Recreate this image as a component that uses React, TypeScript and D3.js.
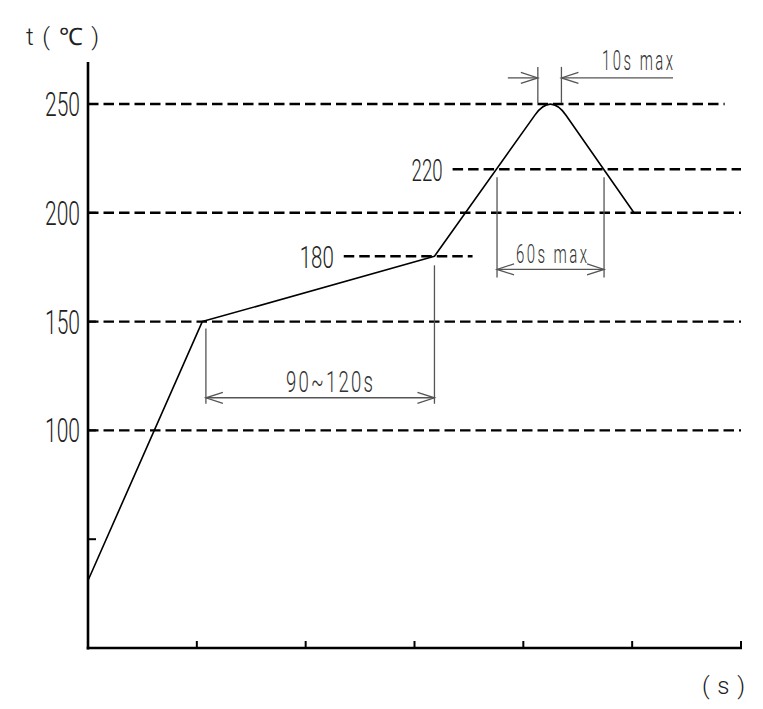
import React from 'react';
import * as d3 from 'd3';

// Reflow profile data (time in s, temperature in °C)
const profileTime = [0, 63, 191, 255, 301];
const profileTemp = [31, 150, 180, 255, 200];
const xTicks = [0, 60, 120, 180, 240, 300, 360];
const yTicks = [50, 100, 150, 200, 250];
const yTickLabels = ['', '100', '150', '200', '250'];
const guideTemps = [250, 220, 200, 180, 150, 100];
const guideFrom = [0, 201, 0, 141, 0, 0];
const guideTo = [351, 360, 360, 212, 360, 360];
const guideLabels = ['', '220', '', '180', '', ''];
const preheatSpan = [65, 191];
const preheatArrowTemp = 115;
const reflowSpan = [225.5, 284.5];
const reflowArrowTemp = 174;
const peakSpan = [248, 261];
const peakArrowTemp = 262;

const FONT = "Roboto, 'Liberation Sans', sans-serif";

function NarrowText(props: { x: number; y: number; size: number; width: number; sx: number; fill: string; children: string }) {
  const { x, y, size, width, sx, fill, children } = props;
  return (
    <text transform={`translate(${x},${y}) scale(${sx},1)`} fontFamily={FONT} fontWeight={300}
      fontSize={size} fill={fill} textLength={width / sx} lengthAdjust="spacing">{children}</text>
  );
}

export default function App() {
  const x = d3.scaleLinear().domain([0, 360]).range([88, 741]);
  const y = d3.scaleLinear().domain([0, 250]).range([648, 104]);

  // profile path with rounded apex
  const pts = profileTime.map((t, i) => [x(t), y(profileTemp[i])]);
  const r = 27;
  const toward = (a: number[], b: number[], d: number) => {
    const dx = b[0] - a[0], dy = b[1] - a[1];
    const L = Math.hypot(dx, dy);
    return [a[0] + (dx / L) * d, a[1] + (dy / L) * d];
  };
  const A = toward(pts[3], pts[2], r);
  const B = toward(pts[3], pts[4], r);
  const p = d3.path();
  p.moveTo(pts[0][0], pts[0][1]);
  p.lineTo(pts[1][0], pts[1][1]);
  p.lineTo(pts[2][0], pts[2][1]);
  p.lineTo(A[0], A[1]);
  p.quadraticCurveTo(pts[3][0], pts[3][1], B[0], B[1]);
  p.lineTo(pts[4][0], pts[4][1]);

  const dimColor = '#555';
  const head = (xTip: number, yy: number, dir: number) =>
    `M${xTip + dir * 17},${yy - 5.5}L${xTip},${yy}L${xTip + dir * 17},${yy + 5.5}`;

  const ph1 = x(preheatSpan[0]), ph2 = x(preheatSpan[1]), phY = y(preheatArrowTemp);
  const rf1 = x(reflowSpan[0]), rf2 = x(reflowSpan[1]), rfY = y(reflowArrowTemp);
  const pk1 = x(peakSpan[0]), pk2 = x(peakSpan[1]), pkY = y(peakArrowTemp);

  return (
    <svg width={763} height={709} style={{ position: 'absolute', left: 0, top: 0, background: '#fff' }}>
      {/* guide dashed lines */}
      {guideTemps.map((t, i) => (
        <line key={'g' + i} x1={x(guideFrom[i])} x2={x(guideTo[i])} y1={y(t)} y2={y(t)}
          stroke="#000" strokeWidth={2.4} strokeDasharray="10.5,5" />
      ))}
      {guideTemps.map((t, i) => guideLabels[i] ? (
        <text key={'gl' + i} x={x(guideFrom[i]) - 10} y={y(t) + 12} textAnchor="end"
          fontFamily={FONT} fontWeight={300} fontSize={31} fill="#222"
          textLength={i === 1 ? 31 : 34} lengthAdjust="spacingAndGlyphs">{guideLabels[i]}</text>
      ) : null)}

      {/* axes */}
      <line x1={88} x2={88} y1={62} y2={649.5} stroke="#000" strokeWidth={2.6} />
      <line x1={86.7} x2={x(360) + 1} y1={648} y2={648} stroke="#000" strokeWidth={2.6} />
      {xTicks.slice(1).map((t) => (
        <line key={'xt' + t} x1={x(t)} x2={x(t)} y1={648} y2={641} stroke="#000" strokeWidth={2} />
      ))}
      {yTicks.map((t) => (
        <line key={'yt' + t} x1={88} x2={96} y1={y(t)} y2={y(t)} stroke="#000" strokeWidth={2} />
      ))}
      {yTicks.map((t, i) => yTickLabels[i] ? (
        <text key={'yl' + t} x={80} y={y(t) + 12} textAnchor="end" fontFamily={FONT} fontWeight={300}
          fontSize={33} fill="#222" textLength={35} lengthAdjust="spacingAndGlyphs">{yTickLabels[i]}</text>
      ) : null)}
      <text x={26} y={45} fontFamily={FONT} fontWeight={300} fontSize={24} fill="#222" textLength={73}
        lengthAdjust="spacing">t ( ℃ )</text>
      <text x={702} y={694} fontFamily={FONT} fontWeight={300} fontSize={24} fill="#222" textLength={43}
        lengthAdjust="spacing">( s )</text>

      {/* profile */}
      <path d={p.toString()} fill="none" stroke="#000" strokeWidth={1.6} strokeLinejoin="round" />

      {/* dimensions */}
      <g stroke={dimColor} strokeWidth={1.3} fill="none">
        <line x1={ph1} x2={ph1} y1={pts[1][1] + 7} y2={phY + 6} />
        <line x1={ph2} x2={ph2} y1={pts[2][1] + 9} y2={phY + 6} />
        <line x1={ph1} x2={ph2} y1={phY} y2={phY} />
        <path d={head(ph1, phY, 1)} />
        <path d={head(ph2, phY, -1)} />

        <line x1={rf1} x2={rf1} y1={y(220) + 8} y2={rfY + 8} />
        <line x1={rf2} x2={rf2} y1={y(220) + 8} y2={rfY + 8} />
        <line x1={rf1} x2={rf2} y1={rfY} y2={rfY} />
        <path d={head(rf1, rfY, 1)} />
        <path d={head(rf2, rfY, -1)} />

        <line x1={pk1} x2={pk1} y1={pkY - 11} y2={y(250) - 1} />
        <line x1={pk2} x2={pk2} y1={pkY - 11} y2={y(250) - 1} />
        <line x1={pk1 - 30} x2={pk1} y1={pkY} y2={pkY} />
        <line x1={pk2} x2={673} y1={pkY} y2={pkY} />
        <path d={head(pk1, pkY, -1)} />
        <path d={head(pk2, pkY, 1)} />
      </g>
      <NarrowText x={286} y={392} size={30} width={87} sx={0.62} fill="#333">90~120s</NarrowText>
      <NarrowText x={516} y={263} size={25} width={71} sx={0.6} fill="#333">60s max</NarrowText>
      <NarrowText x={602} y={70} size={27} width={71} sx={0.55} fill="#333">10s max</NarrowText>
    </svg>
  );
}
